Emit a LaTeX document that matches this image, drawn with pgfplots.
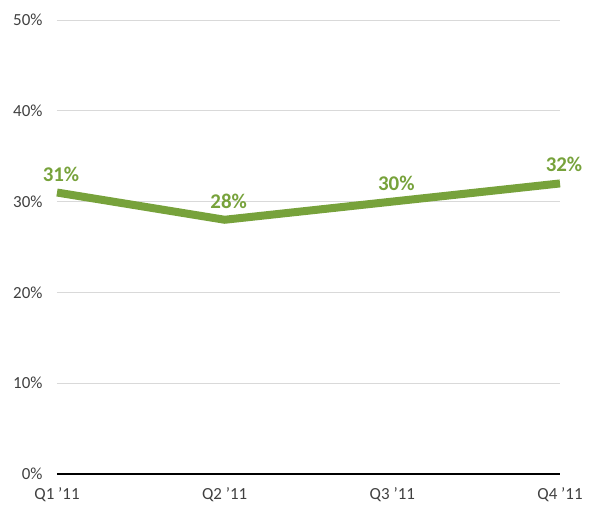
\documentclass[border=0pt]{standalone}
\usepackage{fontspec}
\setmainfont{Carlito}
\usepackage{pgfplots}
\pgfplotsset{compat=1.18}
\definecolor{linegreen}{HTML}{77A23B}
\definecolor{gridgray}{HTML}{D9D9D9}
\definecolor{ticktext}{HTML}{404040}

\begin{document}
\begin{tikzpicture}
\begin{axis}[
  scale only axis,
  width=503bp,
  height=454bp,
  xmin=0, xmax=3,
  ymin=0, ymax=50,
  xtick={0,1,2,3},
  xticklabels={Q1 '11,Q2 '11,Q3 '11,Q4 '11},
  ytick={0,10,20,30,40,50},
  yticklabel={\pgfmathprintnumber{\tick}\%},
  ymajorgrids,
  grid style={gridgray, line width=0.8bp},
  axis line style={draw=none},
  major tick length=0pt,
  tick label style={font=\fontsize{17}{20}\selectfont, text=ticktext},
  xticklabel style={yshift=-10bp},
  yticklabel style={xshift=-11bp},
  /pgf/number format/assume math mode=true,
  clip=false,
  nodes near coords={\pgfmathprintnumber{\pgfplotspointmeta}\%},
  nodes near coords style={font=\bfseries\fontsize{21}{25}\selectfont, text=linegreen, anchor=south, yshift=4bp, xshift=4bp},
]
\draw[black, line width=1.3bp] (axis cs:0,0) -- (axis cs:3,0);
\addplot[linegreen, line width=8bp, mark=none] coordinates {(0,31) (1,28) (2,30) (3,32)};
\end{axis}
\pgfresetboundingbox
\path[use as bounding box] (-57bp,-34bp) rectangle (532bp,474bp);
\end{tikzpicture}
\end{document}
